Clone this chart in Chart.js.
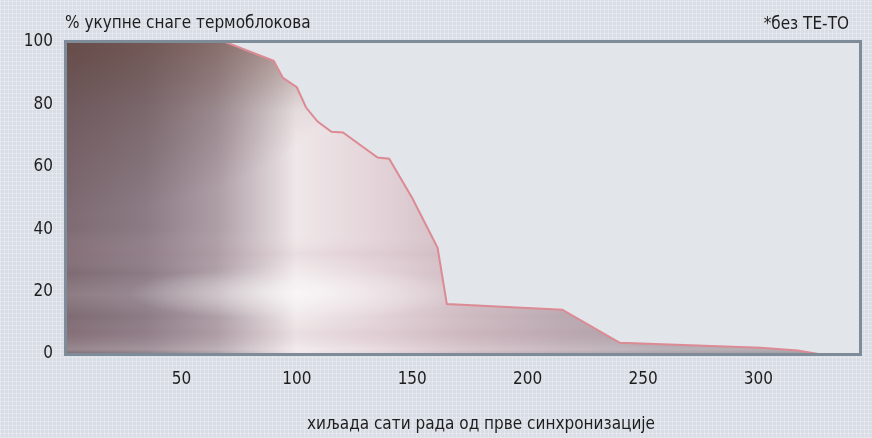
<!DOCTYPE html>
<html>
<head>
<meta charset="utf-8">
<script src="https://cdn.jsdelivr.net/npm/chart.js@4"></script>
<style>
  html, body { margin: 0; padding: 0; }
  body {
    width: 872px; height: 438px; overflow: hidden;
    background-color: #d9dee6;
    background-image:
      repeating-linear-gradient(0deg, rgba(255,255,255,0.25) 0px, rgba(255,255,255,0.25) 1px, transparent 1px, transparent 4px),
      repeating-linear-gradient(90deg, rgba(255,255,255,0.25) 0px, rgba(255,255,255,0.25) 1px, transparent 1px, transparent 4px);
  }
  #wrap { position: relative; width: 872px; height: 438px; }
</style>
</head>
<body>
<div id="wrap"><canvas id="chart" width="872" height="438"></canvas></div>
<script>
// thousands of operating hours since first synchronisation
const hours = [0, 69, 90, 94, 100, 104, 109, 115, 120, 135, 140, 150, 161, 165, 215, 240, 301, 317, 326];
// % of total thermal unit capacity
const share = [100, 100, 94, 88.5, 85.5, 79, 74.5, 71.2, 71, 63, 62.6, 50, 34, 16, 14.2, 3.6, 2, 1.1, 0];
const xTicks = [50, 100, 150, 200, 250, 300];
const yTicks = [0, 20, 40, 60, 80, 100];

const yTitle = '% укупне снаге термоблокова';
const xTitle = 'хиљада сати рада од прве синхронизације';
const note = '*без ТЕ-ТО';

const FONT = "'DejaVu Sans Condensed', 'Liberation Sans', sans-serif";
const FSIZE = 17;

let fillCache = null;
function areaFill(context) {
  const chart = context.chart;
  const a = chart.chartArea;
  if (!a) return '#b0a0a8';
  const key = [a.left, a.top, a.right, a.bottom].join(',');
  if (fillCache && fillCache.key === key) return fillCache.pat;

  const off = document.createElement('canvas');
  off.width = chart.width;
  off.height = chart.height;
  const g = off.getContext('2d');
  const w = a.right - a.left, h = a.bottom - a.top;

  // base: brightness columns across
  let lg = g.createLinearGradient(a.left, 0, a.right, 0);
  lg.addColorStop(0, '#7e6a72');
  lg.addColorStop(0.1, '#8c7b84');
  lg.addColorStop(0.19, '#ad9da5');
  lg.addColorStop(0.29, '#efe7e9');
  lg.addColorStop(0.4, '#e2d2d7');
  lg.addColorStop(0.5, '#cfbbc2');
  lg.addColorStop(0.62, '#bcaab2');
  lg.addColorStop(0.75, '#aaa0a8');
  lg.addColorStop(1, '#9c98a0');
  g.fillStyle = lg;
  g.fillRect(a.left, a.top, w, h);

  // brown tint along the top
  let vg = g.createLinearGradient(0, a.top, 0, a.bottom);
  vg.addColorStop(0, 'rgba(130,88,72,0.4)');
  vg.addColorStop(0.22, 'rgba(130,88,72,0)');
  vg.addColorStop(1, 'rgba(130,88,72,0)');
  g.fillStyle = vg;
  g.fillRect(a.left, a.top, w, h);

  // dark corner top-left
  g.save();
  g.translate(a.left, a.top);
  g.scale(1.7, 1);
  let rg = g.createRadialGradient(0, 0, 0, 0, 0, h * 0.55);
  rg.addColorStop(0, 'rgba(85,62,58,0.6)');
  rg.addColorStop(1, 'rgba(85,62,58,0)');
  g.fillStyle = rg;
  g.fillRect(0, 0, w, h);
  g.restore();

  // faint horizontal bands across
  let bg = g.createLinearGradient(0, a.top, 0, a.bottom);
  bg.addColorStop(0, 'rgba(255,255,255,0)');
  bg.addColorStop(0.6, 'rgba(255,255,255,0)');
  bg.addColorStop(0.68, 'rgba(190,150,165,0.12)');
  bg.addColorStop(0.74, 'rgba(255,255,255,0)');
  bg.addColorStop(0.81, 'rgba(235,235,238,0.14)');
  bg.addColorStop(0.88, 'rgba(255,255,255,0)');
  bg.addColorStop(0.93, 'rgba(190,150,165,0.1)');
  bg.addColorStop(0.985, 'rgba(255,255,255,0.2)');
  bg.addColorStop(1, 'rgba(255,255,255,0)');
  g.fillStyle = bg;
  g.fillRect(a.left, a.top, w, h);

  // bright spot on the lower band
  const cx = a.left + w * 0.29, cy = a.top + h * 0.805;
  g.save();
  g.translate(cx, cy);
  g.scale(6, 1);
  let sg = g.createRadialGradient(0, 0, 0, 0, 0, 28);
  sg.addColorStop(0, 'rgba(255,255,255,0.6)');
  sg.addColorStop(1, 'rgba(255,255,255,0)');
  g.fillStyle = sg;
  g.fillRect(-w, -h, 2 * w, 2 * h);
  g.restore();

  const pat = chart.ctx.createPattern(off, 'no-repeat');
  fillCache = { key, pat };
  return pat;
}

const decor = {
  id: 'decor',
  beforeDraw(chart) {
    const a = chart.chartArea, c = chart.ctx;
    c.save();
    c.fillStyle = '#e2e6eb';
    c.fillRect(a.left, a.top, a.right - a.left, a.bottom - a.top);
    c.restore();
  },
  afterDatasetsDraw(chart) {
    const a = chart.chartArea, c = chart.ctx;
    c.save();
    c.strokeStyle = '#7d8c98';
    c.lineWidth = 3;
    c.strokeRect(a.left - 0.5, a.top - 0.5, a.right - a.left + 1, a.bottom - a.top + 1);
    c.fillStyle = '#1e1e1e';
    c.font = FSIZE + 'px ' + FONT;
    c.textBaseline = 'middle';
    c.textAlign = 'left';
    c.fillText(yTitle, 65, 24);
    c.textAlign = 'right';
    c.fillText(note, 849, 25);
    c.textAlign = 'center';
    c.fillText(xTitle, 481, 425);
    c.restore();
  }
};

new Chart(document.getElementById('chart'), {
  type: 'scatter',
  data: {
    datasets: [{
      data: hours.map((h, i) => ({ x: h, y: share[i] })),
      showLine: true,
      fill: 'origin',
      backgroundColor: areaFill,
      borderColor: '#dc8a93',
      borderWidth: 2,
      pointRadius: 0,
      tension: 0
    }]
  },
  options: {
    responsive: false,
    animation: false,
    layout: { padding: { top: 42, right: 12, left: 0, bottom: 0 } },
    plugins: { legend: { display: false }, tooltip: { enabled: false } },
    scales: {
      x: {
        type: 'linear',
        min: 0,
        max: 344,
        afterBuildTicks: (s) => { s.ticks = xTicks.map(v => ({ value: v })); },
        afterFit: (s) => { s.height = 84; },
        grid: { display: false, drawTicks: false },
        border: { display: false },
        ticks: { padding: 15, color: '#1e1e1e', font: { family: FONT, size: FSIZE } }
      },
      y: {
        min: 0,
        max: 100,
        afterBuildTicks: (s) => { s.ticks = yTicks.map(v => ({ value: v })); },
        afterFit: (s) => { s.width = 66; },
        grid: { display: false, drawTicks: false },
        border: { display: false },
        ticks: { padding: 13, color: '#1e1e1e', font: { family: FONT, size: FSIZE } }
      }
    }
  },
  plugins: [decor]
});
</script>
</body>
</html>
